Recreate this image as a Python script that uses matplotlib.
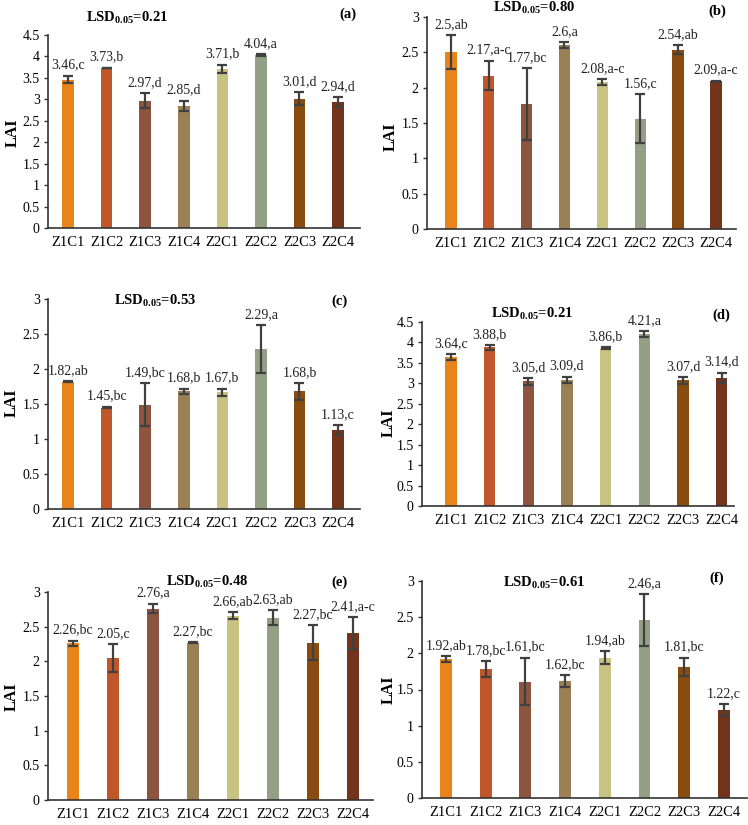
import matplotlib
matplotlib.use("Agg")
import matplotlib.pyplot as plt
from matplotlib.ticker import MultipleLocator, FuncFormatter

plt.rcParams["font.family"] = ["Liberation Serif", "DejaVu Serif"]
plt.rcParams["mathtext.fontset"] = "custom"
plt.rcParams["mathtext.bf"] = "Liberation Serif:bold"
plt.rcParams["mathtext.rm"] = "Liberation Serif"

W, H = 748, 825

categories = ["Z1C1", "Z1C2", "Z1C3", "Z1C4", "Z2C1", "Z2C2", "Z2C3", "Z2C4"]
colors = ["#E8841A", "#C0572B", "#8B5540", "#9C8055",
          "#C8C283", "#94A085", "#884C10", "#73341B"]

# panel (a)
lai_a = [3.46, 3.73, 2.97, 2.85, 3.71, 4.04, 3.01, 2.94]
err_a = [0.09, 0.01, 0.17, 0.12, 0.10, 0.02, 0.15, 0.11]
let_a = ["c", "b", "d", "d", "b", "a", "d", "d"]
# panel (b)
lai_b = [2.5, 2.17, 1.77, 2.6, 2.08, 1.56, 2.54, 2.09]
err_b = [0.24, 0.21, 0.51, 0.04, 0.04, 0.35, 0.06, 0.01]
let_b = ["ab", "a-c", "bc", "a", "a-c", "c", "ab", "a-c"]
# panel (c)
lai_c = [1.82, 1.45, 1.49, 1.68, 1.67, 2.29, 1.68, 1.13]
err_c = [0.005, 0.01, 0.31, 0.04, 0.05, 0.34, 0.12, 0.07]
let_c = ["ab", "bc", "bc", "b", "b", "a", "b", "c"]
# panel (d)
lai_d = [3.64, 3.88, 3.05, 3.09, 3.86, 4.21, 3.07, 3.14]
err_d = [0.08, 0.06, 0.08, 0.07, 0.03, 0.07, 0.08, 0.12]
let_d = ["c", "b", "d", "d", "b", "a", "d", "d"]
# panel (e)
lai_e = [2.26, 2.05, 2.76, 2.27, 2.66, 2.63, 2.27, 2.41]
err_e = [0.04, 0.20, 0.07, 0.005, 0.05, 0.11, 0.25, 0.23]
let_e = ["bc", "c", "a", "bc", "ab", "ab", "bc", "a-c"]
# panel (f)
lai_f = [1.92, 1.78, 1.61, 1.62, 1.94, 2.46, 1.81, 1.22]
err_f = [0.04, 0.11, 0.33, 0.08, 0.09, 0.36, 0.13, 0.08]
let_f = ["ab", "bc", "bc", "bc", "ab", "a", "bc", "c"]

lsd = ["0.21", "0.80", "0.53", "0.21", "0.48", "0.61"]
tags = ["(a)", "(b)", "(c)", "(d)", "(e)", "(f)"]
ymax = [4.5, 3, 3, 4.5, 3, 3]

# layout in pixels: left, right, top, bottom, xlim, lsd pos, tag pos, LAI pos
boxes = [
    (48, 360, 35, 228, (-0.52, 7.57), (127, 18), (348, 14), (13, 133)),
    (427, 736, 17, 229, (-0.63, 7.53), (534, 8), (717, 11), (391, 137)),
    (48, 360, 299, 509, (-0.52, 7.57), (155, 301), (340, 301), (12, 403)),
    (422, 734, 322, 506, (-0.75, 7.32), (532, 314), (721, 315), (389, 423)),
    (48, 373, 592, 800, (-0.62, 7.5), (207, 582), (340, 582), (12, 697)),
    (422, 747, 581, 798, (-0.6, 7.58), (544, 583), (717, 578), (389, 690)),
]

panels = [(lai_a, err_a, let_a), (lai_b, err_b, let_b), (lai_c, err_c, let_c),
          (lai_d, err_d, let_d), (lai_e, err_e, let_e), (lai_f, err_f, let_f)]

fig = plt.figure(figsize=(W / 100, H / 100), dpi=100)


def fx(x):
    return x / W


def fy(y):
    return 1 - y / H


for k, (vals, errs, lets) in enumerate(panels):
    l, r, t, b, xl, lsd_pos, tag_pos, lai_pos = boxes[k]
    ax = fig.add_axes([fx(l), fy(b), (r - l) / W, (b - t) / H])
    x = list(range(len(categories)))
    ax.bar(x, vals, width=0.3, color=colors)
    ax.errorbar(x, vals, yerr=errs, fmt="none", ecolor="#404040",
                elinewidth=1.6, capsize=3.5, capthick=1.6)
    for i, v in enumerate(vals):
        ax.annotate(f"{v:g},{lets[i]}", (i, v + errs[i]), xytext=(0, 3),
                    textcoords="offset points", ha="center", va="bottom",
                    fontsize=10, color="#222222", annotation_clip=False)
    ax.set_xlim(*xl)
    ax.set_ylim(0, ymax[k])
    ax.yaxis.set_major_locator(MultipleLocator(0.5))
    ax.yaxis.set_major_formatter(FuncFormatter(lambda v, p: f"{v:g}"))
    ax.set_xticks(x)
    ax.set_xticklabels(categories)
    ax.tick_params(axis="x", length=0, pad=6, labelsize=10.5)
    ax.tick_params(axis="y", length=3, width=1, pad=3, labelsize=10,
                   color="#333333")
    for s in ["top", "right"]:
        ax.spines[s].set_visible(False)
    for s in ["left", "bottom"]:
        ax.spines[s].set_color("#333333")
        ax.spines[s].set_linewidth(1.2)
    fig.text(fx(lsd_pos[0]), fy(lsd_pos[1]),
             r"LSD$_{\mathbf{0.05}}$=" + lsd[k],
             ha="center", va="center", fontsize=10.5, fontweight="bold")
    fig.text(fx(tag_pos[0]), fy(tag_pos[1]), tags[k],
             ha="center", va="center", fontsize=10.5, fontweight="bold")
    fig.text(fx(lai_pos[0]), fy(lai_pos[1]), "LAI", rotation=90,
             ha="center", va="center", fontsize=11.5, fontweight="bold")

fig.savefig("out.png", dpi=100)
